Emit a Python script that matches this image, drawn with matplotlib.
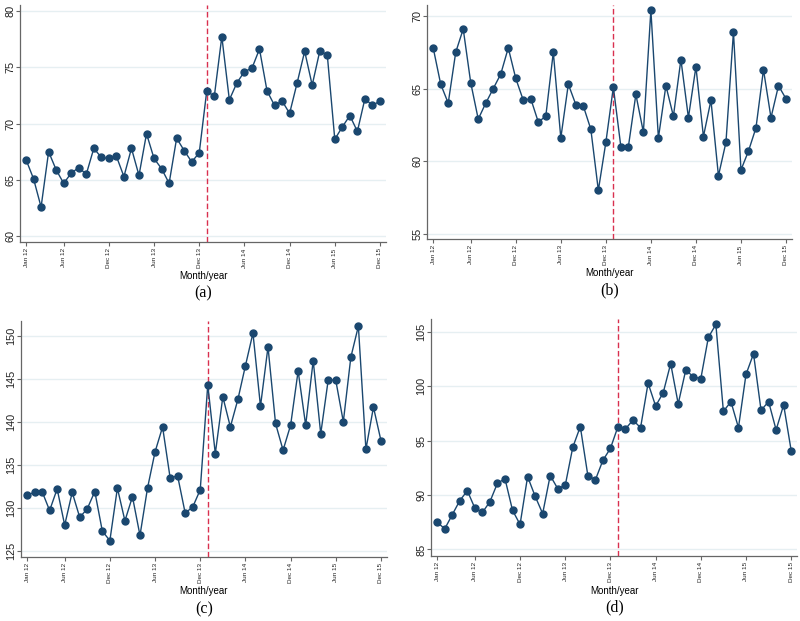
import matplotlib
matplotlib.use("Agg")
import matplotlib.pyplot as plt

tick_idx = [0, 5, 11, 17, 23, 29, 35, 41, 47]
tick_labels = ["Jan 12", "Jun 12", "Dec 12", "Jun 13", "Dec 13", "Jun 14", "Dec 14", "Jun 15", "Dec 15"]
break_idx = 24  # Jan 14

series_a = [66.8, 65.1, 62.6, 67.5, 65.9, 64.7, 65.6, 66.1, 65.5, 67.8, 67.0, 66.9,
            67.1, 65.3, 67.8, 65.4, 69.1, 66.9, 66.0, 64.7, 68.7, 67.6, 66.6, 67.4,
            72.9, 72.4, 77.7, 72.1, 73.6, 74.6, 74.9, 76.6, 72.9, 71.6, 72.0, 70.9,
            73.6, 76.4, 73.4, 76.4, 76.1, 68.6, 69.7, 70.7, 69.3, 72.2, 71.6, 72.0]
series_b = [67.8, 65.3, 64.0, 67.5, 69.1, 65.4, 62.9, 64.0, 65.0, 66.0, 67.8, 65.7,
            64.2, 64.3, 62.7, 63.1, 67.5, 61.6, 65.3, 63.9, 63.8, 62.2, 58.0, 61.3,
            65.1, 61.0, 61.0, 64.6, 62.0, 70.4, 61.6, 65.2, 63.1, 67.0, 63.0, 66.5,
            61.7, 64.2, 59.0, 61.3, 68.9, 59.4, 60.7, 62.3, 66.3, 63.0, 65.2, 64.3]
series_c = [131.5, 131.8, 131.9, 129.7, 132.2, 128.0, 131.8, 128.9, 129.9, 131.9, 127.3, 126.2,
            132.3, 128.5, 131.3, 126.8, 132.3, 136.5, 139.4, 133.5, 133.7, 129.4, 130.1, 132.1,
            144.3, 136.3, 142.9, 139.4, 142.6, 146.5, 150.3, 141.8, 148.7, 139.8, 136.7, 139.6,
            145.9, 139.6, 147.1, 138.6, 144.9, 144.8, 140.0, 147.5, 151.1, 136.8, 141.7, 137.8]
series_d = [87.5, 86.9, 88.2, 89.5, 90.4, 88.8, 88.4, 89.4, 91.1, 91.5, 88.6, 87.3,
            91.7, 89.9, 88.3, 91.8, 90.6, 90.9, 94.4, 96.3, 91.8, 91.4, 93.2, 94.3,
            96.3, 96.1, 96.9, 96.2, 100.3, 98.2, 99.4, 102.1, 98.4, 101.5, 100.9, 100.7,
            104.5, 105.7, 97.7, 98.6, 96.2, 101.1, 103.0, 97.8, 98.6, 96.0, 98.3, 94.1]

# label, data, yticks, ylim, axes rect, y of "Month/year" and of panel letter (pixels from top)
panels = [
    ("(a)", series_a, [60, 65, 70, 75, 80], (59.5, 80.5), [0.025, 0.6103, 0.4575, 0.3816], 276, 293),
    ("(b)", series_b, [55, 60, 65, 70], (54.65, 70.75), [0.534, 0.6151, 0.456, 0.3768], 273, 290),
    ("(c)", series_c, [125, 130, 135, 140, 145, 150], (124.3, 151.7), [0.02625, 0.1031, 0.4575, 0.38], 591, 609),
    ("(d)", series_d, [85, 90, 95, 100, 105], (84.4, 106.2), [0.539, 0.1047, 0.4575, 0.3816], 591, 607),
]

line_col = "#1a476f"
red = "#d9304f"
grid_col = "#e6eff2"
axis_col = "#666666"
H = 621

fig = plt.figure(figsize=(8, 6.21), dpi=100)
x = list(range(48))

for label, vals, yt, ylim, pos, ylab_px, letter_px in panels:
    ax = fig.add_axes(pos)
    ax.plot(x, vals, color=line_col, lw=1.0, marker="o", ms=5, zorder=3)
    ax.axvline(break_idx, color=red, lw=1.0, ls=(0, (4, 2)), zorder=2)
    ax.set_xlim(-0.8, 47.8)
    ax.set_ylim(*ylim)
    ax.set_yticks(yt)
    ax.set_yticklabels([str(v) for v in yt], rotation=90, va="center", fontsize=7.8,
                       family="Liberation Sans")
    ax.set_xticks(tick_idx)
    ax.set_xticklabels(tick_labels, rotation=90, fontsize=4.6, family="Liberation Sans")
    ax.yaxis.grid(True, color=grid_col, lw=1.0)
    ax.set_axisbelow(True)
    for s in ["top", "right"]:
        ax.spines[s].set_visible(False)
    for s in ["left", "bottom"]:
        ax.spines[s].set_color(axis_col)
        ax.spines[s].set_linewidth(0.9)
    ax.tick_params(colors=axis_col, labelcolor="#222222", length=3, width=0.8)
    ax.tick_params(axis="y", pad=0.5)
    ax.tick_params(axis="x", pad=1.5)
    cx = pos[0] + pos[2] / 2
    fig.text(cx, 1 - ylab_px / H, "Month/year", ha="center", va="center",
             fontsize=7, family="Liberation Sans")
    fig.text(cx, 1 - letter_px / H, label, ha="center", va="center",
             fontsize=11.5, family="Liberation Serif")

fig.savefig("out.png", dpi=100)
